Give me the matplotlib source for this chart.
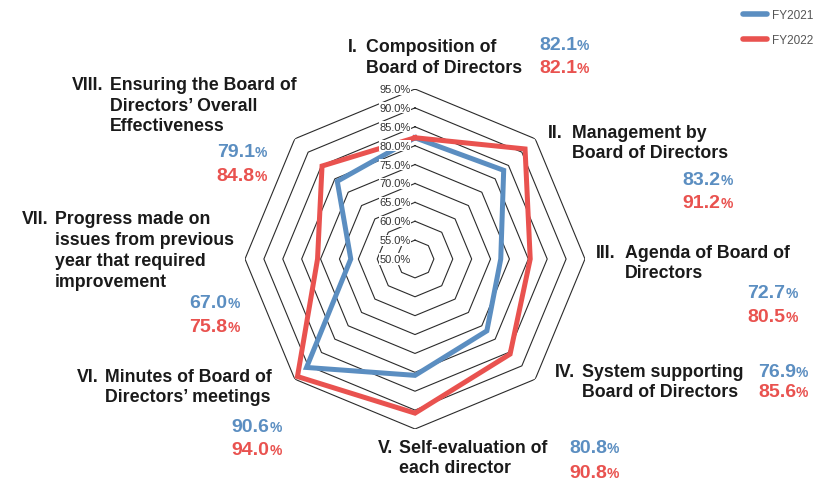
import numpy as np
import matplotlib
matplotlib.use("Agg")
import matplotlib.pyplot as plt
from matplotlib.lines import Line2D

plt.rcParams['font.family'] = ['Liberation Sans', 'DejaVu Sans']

# dados
prefixes = ["I.", "II.", "III.", "IV.", "V.", "VI.", "VII.", "VIII."]
bodies = [
    ["Composition of", "Board of Directors"],
    ["Management by", "Board of Directors"],
    ["Agenda of Board of", "Directors"],
    ["System supporting", "Board of Directors"],
    ["Self-evaluation of", "each director"],
    ["Minutes of Board of", "Directors\u2019 meetings"],
    ["Progress made on", "issues from previous", "year that required", "improvement"],
    ["Ensuring the Board of", "Directors\u2019 Overall", "Effectiveness"],
]
fy2021 = [82.1, 83.2, 72.7, 76.9, 80.8, 90.6, 67.0, 79.1]
fy2022 = [82.1, 91.2, 80.5, 85.6, 90.8, 94.0, 75.8, 84.8]
series_names = ["FY2021", "FY2022"]
ring_levels = [50, 55, 60, 65, 70, 75, 80, 85, 90, 95]

BLUE = "#5B8EC1"
RED = "#E9524F"
TXT = "#1a1a1a"

W, H = 817, 481
fig = plt.figure(figsize=(W / 100, H / 100), dpi=100)

# radar (polar) - centro em (415, 260) px, raio 170 px para 95%
cx, cy, R = 415, 260, 170
ax = fig.add_axes([(cx - R) / W, 1 - (cy + R) / H, 2 * R / W, 2 * R / H],
                  projection="polar")
ax.set_theta_offset(np.pi / 2)
ax.set_theta_direction(-1)
ax.set_ylim(50, 95)
ax.grid(False)
ax.spines["polar"].set_visible(False)
ax.set_xticks([])
ax.set_yticks([])
ax.patch.set_alpha(0)

n = len(fy2021)
theta = np.linspace(0, 2 * np.pi, n, endpoint=False)
theta_c = np.append(theta, theta[0])

# octógonos de grade
for lv in ring_levels[1:]:
    ax.plot(theta_c, [lv] * (n + 1), color="#2b2b2b", lw=0.8, zorder=1)

for vals, col in [(fy2021, BLUE), (fy2022, RED)]:
    ax.plot(theta_c, vals + vals[:1], color=col, lw=3.6, zorder=3,
            solid_joinstyle="miter")

for lv in ring_levels:
    ax.annotate(f"{lv:.1f}%", xy=(0, lv), xytext=(-3, 0),
                textcoords="offset points", ha="right", va="center",
                fontsize=8, color="#333333", zorder=5,
                bbox=dict(boxstyle="square,pad=0.05", fc="white", ec="none"))


def fx(x):
    return x / W


def fy(y):
    return 1 - y / H


# rótulos das categorias (px): prefixo x, corpo x, baselines
label_pos = [
    (348, 366, [52, 73]),
    (548, 572, [138, 158]),
    (596, 625, [258, 278]),
    (555, 582, [377, 397]),
    (378, 399, [453, 473]),
    (77, 105, [382, 402]),
    (22, 55, [224, 245, 266, 287]),
    (72, 110, [90, 111, 131]),
]
# valores: x, alinhamento, baselines (azul, vermelho)
value_pos = [
    (539, "left", [50, 73]),
    (733, "right", [185, 208]),
    (798, "right", [298, 322]),
    (758, "left", [377, 397]),
    (569, "left", [453, 478]),
    (282, "right", [432, 455]),
    (240, "right", [308, 332]),
    (267, "right", [157, 181]),
]

LBL = dict(fontsize=12.8, weight="bold", color=TXT, va="baseline")
for pre, body, (px, bx, ys) in zip(prefixes, bodies, label_pos):
    fig.text(fx(px), fy(ys[0]), pre, ha="left", **LBL)
    for line, yy in zip(body, ys):
        fig.text(fx(bx), fy(yy), line, ha="left", **LBL)


def value_text(x, y, val, col, align):
    if align == "left":
        t = fig.text(fx(x), fy(y), f"{val:.1f}", fontsize=14, weight="bold",
                     color=col, ha="left", va="baseline")
        ax.annotate("%", xy=(1, fy(y)), xycoords=(t, "figure fraction"),
                    fontsize=10, weight="bold", color=col,
                    ha="left", va="baseline", annotation_clip=False)
    else:
        p = fig.text(fx(x), fy(y), "%", fontsize=10, weight="bold",
                     color=col, ha="right", va="baseline")
        ax.annotate(f"{val:.1f}", xy=(0, fy(y)), xycoords=(p, "figure fraction"),
                    fontsize=14, weight="bold", color=col,
                    ha="right", va="baseline", annotation_clip=False)


for i, (x, align, ys) in enumerate(value_pos):
    value_text(x, ys[0], fy2021[i], BLUE, align)
    value_text(x, ys[1], fy2022[i], RED, align)

handles = [Line2D([], [], color=BLUE, lw=4, solid_capstyle="round"),
           Line2D([], [], color=RED, lw=4, solid_capstyle="round")]
leg = fig.legend(handles, series_names, loc="upper left",
                 bbox_to_anchor=(743 / W, 1 - 10 / H), frameon=False,
                 fontsize=8.5, handlelength=2.0, handletextpad=0.45,
                 labelspacing=1.1, borderpad=0, borderaxespad=0)
for t in leg.get_texts():
    t.set_color("#555555")

fig.savefig("out.png", dpi=100)
